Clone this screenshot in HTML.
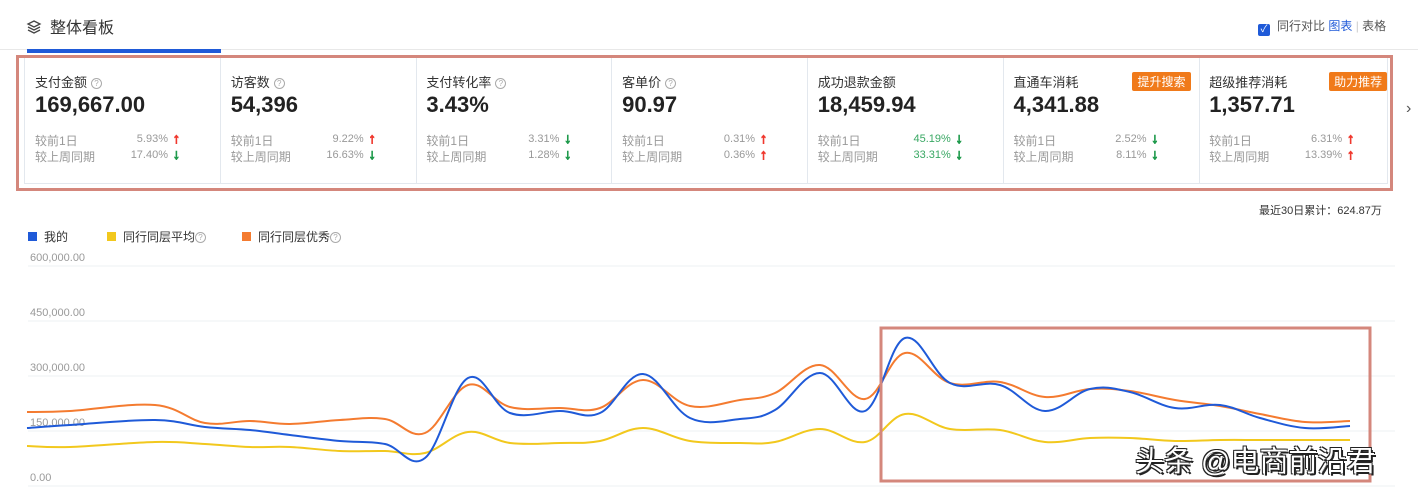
<!DOCTYPE html>
<html><head><meta charset="utf-8"><style>
*{margin:0;padding:0;box-sizing:border-box}
body{width:1418px;height:487px;background:#fff;font-family:"Liberation Sans","Noto Sans CJK SC",sans-serif;position:relative;overflow:hidden;color:#333}
.abs{position:absolute;white-space:nowrap}
.card{position:absolute;top:58px;height:125px;border-right:1px solid #e3e8ee}
.t{position:absolute;left:10px;top:14px;font-size:13px;color:#333}
.v{position:absolute;left:10px;top:34px;font-size:22px;font-weight:bold;color:#222}
.r{position:absolute;left:10px;font-size:12px;color:#999}
.p{position:absolute;font-size:11px;color:#999;text-align:right;width:60px}
.ar{position:absolute;font-size:14px;font-weight:900;-webkit-text-stroke:1px currentColor}
.q{display:inline-block;width:11px;height:11px;border:1px solid #aaa;border-radius:50%;font-size:8px;line-height:9px;text-align:center;color:#aaa;vertical-align:1px;margin-left:4px}
.tag{position:absolute;top:14px;right:8px;background:#f07a1a;color:#fff;font-size:12px;padding:1px 5px;border-radius:2px}
.yl{position:absolute;left:30px;font-size:11px;color:#999}
</style></head><body>
<div class="abs" style="left:26px;top:14px;font-size:16px;color:#333"><svg width="16" height="16" viewBox="0 0 16 16" style="vertical-align:-2px;margin-right:8px"><path d="M8 2 L14 5 L8 8 L2 5Z M2 8 L8 11 L14 8 M2 11 L8 14 L14 11" fill="none" stroke="#444" stroke-width="1.3"/></svg>整体看板</div>
<div class="abs" style="left:0;top:49px;width:1418px;height:1px;background:#e8e8e8"></div>
<div class="abs" style="left:27px;top:49px;width:194px;height:4px;background:#1f5ad8"></div>
<div class="abs" style="left:1258px;top:17px;font-size:12px;color:#555"><span style="display:inline-block;width:12px;height:12px;background:#1f5ad8;border-radius:2px;color:#fff;font-size:10px;line-height:12px;text-align:center;vertical-align:-2px;margin-right:7px">✓</span>同行对比 <span style="color:#1f5ad8">图表</span> <span style="color:#ccc">|</span> 表格</div>

<div class="abs" style="left:24px;top:57px;width:1364px;height:127px;border:1px solid #e3e8ee"></div>
<div id="cards"></div>
<div class="abs" style="left:16px;top:55px;width:1377px;height:136px;border:3px solid #d4877c"></div>
<div class="abs" style="left:1406px;top:100px;font-size:16px;color:#555">›</div>
<div class="abs" style="left:1259px;top:202px;font-size:11px;color:#333">最近30日累计：624.87万</div>

<div class="abs" style="left:28px;top:228px;font-size:12px;color:#333"><span style="display:inline-block;width:9px;height:9px;background:#1f5ad8;margin-right:7px"></span>我的</div>
<div class="abs" style="left:107px;top:228px;font-size:12px;color:#333"><span style="display:inline-block;width:9px;height:9px;background:#f2c81d;margin-right:7px"></span>同行同层平均<span class="q" style="margin-left:0">?</span></div>
<div class="abs" style="left:242px;top:228px;font-size:12px;color:#333"><span style="display:inline-block;width:9px;height:9px;background:#f47b30;margin-right:7px"></span>同行同层优秀<span class="q" style="margin-left:0">?</span></div>

<div class="yl" style="top:252px">600,000.00</div>
<div class="yl" style="top:307px">450,000.00</div>
<div class="yl" style="top:362px">300,000.00</div>
<div class="yl" style="top:417px">150,000.00</div>
<div class="yl" style="top:472px">0.00</div>
<svg class="abs" style="left:0;top:0" width="1418" height="487">
<g stroke="#eef0f3" stroke-width="1"><line x1="28" x2="1395" y1="266" y2="266"/><line x1="28" x2="1395" y1="321" y2="321"/><line x1="28" x2="1395" y1="376" y2="376"/><line x1="28" x2="1395" y1="431" y2="431"/><line x1="28" x2="1395" y1="486" y2="486"/></g>
<path id="py" fill="none" stroke="#f2c81d" stroke-width="2"/>
<path id="po" fill="none" stroke="#f47b30" stroke-width="2"/>
<path id="pb" fill="none" stroke="#1f5ad8" stroke-width="2"/>
<rect x="881" y="328" width="489" height="153" fill="none" stroke="#d4877c" stroke-width="3"/>
</svg>
<div class="abs" style="left:1135px;top:438px;font-size:29px;color:#fff;text-shadow:2px 2px 0 #222,-1px -1px 0 #222,1px -1px 0 #222,-1px 1px 0 #222">头条 @电商前沿君</div>
<script>
var X=[27,70,155,205,250,290,340,385,425,468,510,560,600,643,690,740,775,820,865,905,950,1000,1045,1090,1130,1175,1220,1260,1305,1350];
var B=[428,425,420,427,430,435,441,444,458,378,413,411,413,374,418,419,410,373,411,338,383,385,411,389,392,408,405,418,428,426];
var O=[412,411,405,423,421,424,420,419,433,385,407,408,408,380,406,400,393,365,399,353,383,382,397,389,391,400,406,414,422,421];
var Y=[446,447,442,444,447,447,451,451,453,432,443,443,441,428,441,443,442,429,442,414,429,430,442,438,438,441,440,440,440,440];
function path(ys){var d="M"+X[0]+","+ys[0];for(var i=0;i<X.length-1;i++){var x0=X[i-1]!==undefined?X[i-1]:X[i],y0=ys[i-1]!==undefined?ys[i-1]:ys[i];var x3=X[i+2]!==undefined?X[i+2]:X[i+1],y3=ys[i+2]!==undefined?ys[i+2]:ys[i+1];var t=0.18;var c1x=X[i]+(X[i+1]-x0)*t,c1y=ys[i]+(ys[i+1]-y0)*t;var c2x=X[i+1]-(x3-X[i])*t,c2y=ys[i+1]-(y3-ys[i])*t;d+=" C"+c1x+","+c1y+" "+c2x+","+c2y+" "+X[i+1]+","+ys[i+1];}return d;}
document.getElementById("pb").setAttribute("d",path(B));
document.getElementById("po").setAttribute("d",path(O));
document.getElementById("py").setAttribute("d",path(Y));
var C=[["支付金额","169,667.00","5.93%",1,"17.40%",0,1,""],["访客数","54,396","9.22%",1,"16.63%",0,1,""],["支付转化率","3.43%","3.31%",0,"1.28%",0,1,""],["客单价","90.97","0.31%",1,"0.36%",1,1,""],["成功退款金额","18,459.94","45.19%",0,"33.31%",0,0,""],["直通车消耗","4,341.88","2.52%",0,"8.11%",0,0,"提升搜索"],["超级推荐消耗","1,357.71","6.31%",1,"13.39%",1,0,"助力推荐"]];
var h="";for(var i=0;i<7;i++){var c=C[i],l=25+i*195.7;var green=i==4;
h+='<div class="card" style="left:'+l+'px;width:196px;'+(i==6?'border-right:none':'')+'"><div class="t">'+c[0]+(c[6]?'<span class="q">?</span>':'')+'</div>'+(c[7]?'<div class="tag">'+c[7]+'</div>':'')+'<div class="v">'+c[1]+'</div><div class="r" style="top:74px">较前1日</div><div class="r" style="top:90px">较上周同期</div><div class="p" style="left:83px;top:75px;'+(green?'color:#3aa864':'')+'">'+c[2]+'</div><div class="p" style="left:83px;top:91px;'+(green?'color:#3aa864':'')+'">'+c[4]+'</div><div class="ar" style="left:148px;top:72px;color:'+(c[3]?'#f0382e':'#1f9a4c')+'">'+(c[3]?'↑':'↓')+'</div><div class="ar" style="left:148px;top:88px;color:'+(c[5]?'#f0382e':'#1f9a4c')+'">'+(c[5]?'↑':'↓')+'</div></div>';}
document.getElementById("cards").innerHTML=h;
</script>
</body></html>
